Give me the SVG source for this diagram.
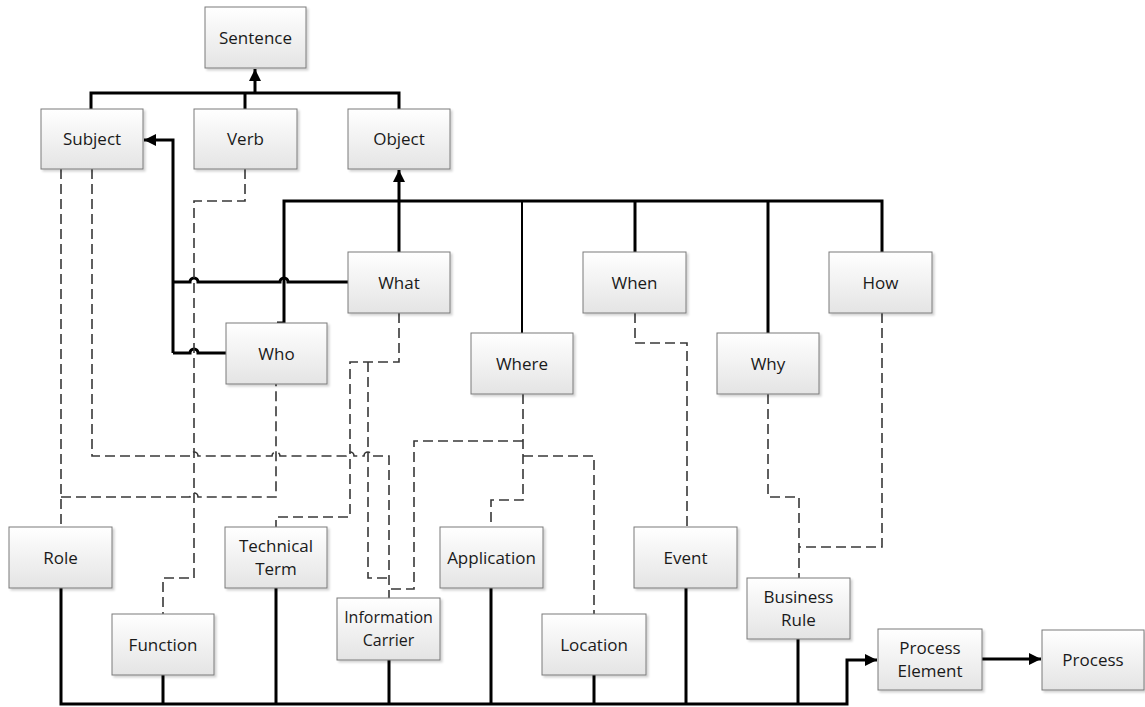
<svg xmlns="http://www.w3.org/2000/svg" width="1145" height="707" viewBox="0 0 1145 707">
<style>
.box{fill:url(#g);stroke:#7a7a7a;stroke-width:1;filter:url(#sh)}
.t{font-family:"Open Sans","Liberation Sans",sans-serif;font-size:17px;fill:#1a1a1a;text-anchor:middle}
.s{font-size:16px}
.k{fill:none;stroke:#000;stroke-width:3}
.k2{fill:none;stroke:#000;stroke-width:2}
.d{fill:none;stroke:#383838;stroke-width:1.6;stroke-dasharray:10 5}
</style>
<defs>
<linearGradient id="g" x1="0" y1="0" x2="0" y2="1"><stop offset="0" stop-color="#ffffff"/><stop offset="1" stop-color="#e4e4e4"/></linearGradient>
<filter id="sh" x="-10%" y="-10%" width="130%" height="130%"><feDropShadow dx="2" dy="2" stdDeviation="1.2" flood-color="#000" flood-opacity="0.18"/></filter>
<marker id="a" viewBox="0 0 10 10" refX="10" refY="5" markerWidth="4" markerHeight="4" markerUnits="strokeWidth" orient="auto"><path d="M0,0 L10,5 L0,10 z" fill="#000"/></marker>
</defs>
<rect width="1145" height="707" fill="#fff"/>
<g id="connectors">
<path class="k" d="M91,109 L91,93 L399,93 L399,109"/>
<path class="k" d="M245,109 L245,93"/>
<path class="k" d="M255,93 L255,69" marker-end="url(#a)"/>
<path class="k" d="M173,353 L173,140 L144,140" marker-end="url(#a)"/>
<path class="k" d="M173,282 L190,282 a4,4 0 0 1 8,0 L280,282 a4,4 0 0 1 8,0 L348,282"/>
<path class="k" d="M173,353 L190,353 a4,4 0 0 1 8,0 L226,353"/>
<path class="k" d="M277,323 L284,323 L284,201 L882,201 L882,252"/>
<path class="k" d="M399,252 L399,201"/>
<path class="k" d="M399,201 L399,170" marker-end="url(#a)"/>
<path class="k2" d="M522,201 L522,333"/>
<path class="k" d="M635,201 L635,252"/>
<path class="k" d="M768,201 L768,333"/>
<path class="k" d="M61,588 L61,704 L847,704 L847,660 L877,660" marker-end="url(#a)"/>
<path class="k" d="M163,675 L163,704 M276,588 L276,704 M389,660 L389,704 M491,588 L491,704 M594,675 L594,704 M686,588 L686,704 M798,639 L798,704"/>
<path class="k" d="M982,659 L1041,659" marker-end="url(#a)"/>
<path class="d" d="M61,169 L61,527"/>
<path class="d" d="M61,497 L190,497 a4,4 0 0 1 8,0 L276,497 L276,384"/>
<path class="d" d="M92,169 L92,456 L190,456 a4,4 0 0 1 8,0 L272,456 a4,4 0 0 1 8,0 L346,456 a4,4 0 0 1 8,0 L364,456 a4,4 0 0 1 8,0 L389,456 L389,598"/>
<path class="d" d="M245,169 L245,201 L194,201 L194,578 L163,578 L163,614"/>
<path class="d" d="M399,313 L399,362 L350,362 L350,517 L276,517 L276,527"/>
<path class="d" d="M368,362 L368,578 L389,578"/>
<path class="d" d="M523,394 L523,500 L491,500 L491,527"/>
<path class="d" d="M523,441 L414,441 L414,589 L389,589"/>
<path class="d" d="M523,456 L594,456 L594,614"/>
<path class="d" d="M635,313 L635,343 L687,343 L687,527"/>
<path class="d" d="M768,394 L768,497 L799,497 L799,578"/>
<path class="d" d="M882,313 L882,547 L799,547"/>
</g>
<g id="sentence"><rect class="box" x="205" y="7" width="101" height="61"/><text class="t" x="255.5" y="43.5">Sentence</text></g>
<g id="subject"><rect class="box" x="41" y="109" width="102" height="60"/><text class="t" x="92" y="145">Subject</text></g>
<g id="verb"><rect class="box" x="194" y="109" width="103" height="60"/><text class="t" x="245.5" y="145">Verb</text></g>
<g id="object"><rect class="box" x="348" y="109" width="102" height="60"/><text class="t" x="399" y="145">Object</text></g>
<g id="what"><rect class="box" x="348" y="252" width="102" height="61"/><text class="t" x="399" y="288.5">What</text></g>
<g id="when"><rect class="box" x="583" y="252" width="103" height="61"/><text class="t" x="634.5" y="288.5">When</text></g>
<g id="how"><rect class="box" x="829" y="252" width="103" height="61"/><text class="t" x="880.5" y="288.5">How</text></g>
<g id="who"><rect class="box" x="226" y="323" width="101" height="61"/><text class="t" x="276.5" y="359.5">Who</text></g>
<g id="where"><rect class="box" x="471" y="333" width="102" height="61"/><text class="t" x="522" y="369.5">Where</text></g>
<g id="why"><rect class="box" x="717" y="333" width="102" height="61"/><text class="t" x="768" y="369.5">Why</text></g>
<g id="role"><rect class="box" x="9" y="527" width="103" height="61"/><text class="t" x="60.5" y="563.5">Role</text></g>
<g id="technical-term"><rect class="box" x="225" y="527" width="102" height="61"/><text class="t" x="276" y="552">Technical</text><text class="t" x="276" y="575">Term</text></g>
<g id="application"><rect class="box" x="440" y="527" width="103" height="61"/><text class="t" x="491.5" y="563.5">Application</text></g>
<g id="event"><rect class="box" x="634" y="527" width="103" height="61"/><text class="t" x="685.5" y="563.5">Event</text></g>
<g id="function"><rect class="box" x="112" y="614" width="102" height="61"/><text class="t" x="163" y="650.5">Function</text></g>
<g id="information-carrier"><rect class="box" x="337" y="598" width="103" height="62"/><text class="t s" x="388.5" y="623">Information</text><text class="t s" x="388.5" y="646">Carrier</text></g>
<g id="location"><rect class="box" x="542" y="614" width="104" height="61"/><text class="t" x="594" y="650.5">Location</text></g>
<g id="business-rule"><rect class="box" x="747" y="578" width="103" height="61"/><text class="t" x="798.5" y="603">Business</text><text class="t" x="798.5" y="626">Rule</text></g>
<g id="process-element"><rect class="box" x="878" y="629" width="104" height="61"/><text class="t" x="930" y="654">Process</text><text class="t" x="930" y="677">Element</text></g>
<g id="process"><rect class="box" x="1042" y="630" width="102" height="60"/><text class="t" x="1093" y="666">Process</text></g>
</svg>
